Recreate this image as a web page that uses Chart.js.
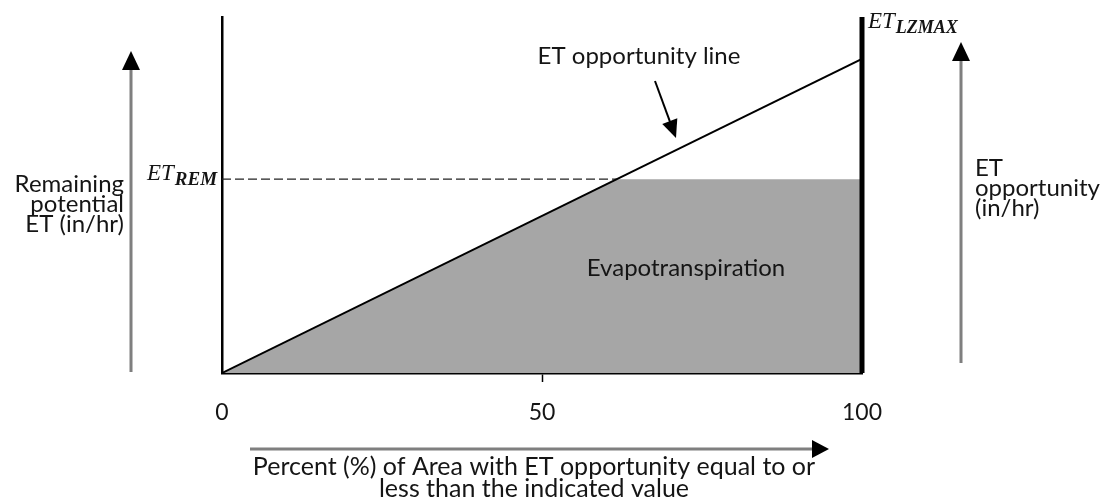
<!DOCTYPE html>
<html>
<head>
<meta charset="utf-8">
<script src="https://cdn.jsdelivr.net/npm/chart.js@4.4.1/dist/chart.umd.min.js"></script>
<style>
  html, body { margin: 0; padding: 0; background: #fff; }
  #wrap { width: 1105px; height: 504px; position: relative; }
</style>
</head>
<body>
<div id="wrap"><canvas id="etChart"></canvas></div>
<script>
// percent of area (x) and the two curves (y, in/hr, scaled so ET_LZMAX = 1)
const areaPct = [0, 61.7, 100];
const opportunity = [0, 0.617, 1.0];
const evapotranspiration = [0, 0.617, 0.617];
const etRem = 0.617;
const etLzMax = 1.0;
const yTop = 1.133;
const xTicks = [0, 50, 100];

const textFont = 'Lato, "Open Sans", sans-serif';
const mathFont = '"Liberation Serif", "DejaVu Serif", serif';
const textSize = 24;
const ink = '#151515';

const pts = (xs, ys) => xs.map((x, i) => ({ x: x, y: ys[i] }));

// arrow with a shaft and a filled black head
function arrow(ctx, x1, y1, x2, y2, shaft, width, headLen, headHalf) {
  const a = Math.atan2(y2 - y1, x2 - x1);
  const bx = x2 - Math.cos(a) * headLen, by = y2 - Math.sin(a) * headLen;
  ctx.save();
  ctx.strokeStyle = shaft;
  ctx.lineWidth = width;
  ctx.beginPath();
  ctx.moveTo(x1, y1);
  ctx.lineTo(bx + Math.cos(a), by + Math.sin(a));
  ctx.stroke();
  ctx.fillStyle = '#000';
  ctx.beginPath();
  ctx.moveTo(x2, y2);
  ctx.lineTo(bx + Math.sin(a) * headHalf, by - Math.cos(a) * headHalf);
  ctx.lineTo(bx - Math.sin(a) * headHalf, by + Math.cos(a) * headHalf);
  ctx.closePath();
  ctx.fill();
  ctx.restore();
}

function subLabel(ctx, x, y, main, sub, mainSize, subSize) {
  ctx.save();
  ctx.fillStyle = ink;
  ctx.textAlign = 'left';
  ctx.textBaseline = 'alphabetic';
  ctx.font = 'italic ' + mainSize + 'px ' + mathFont;
  ctx.fillText(main, x, y);
  const w = ctx.measureText(main).width;
  ctx.font = 'italic bold ' + subSize + 'px ' + mathFont;
  ctx.fillText(sub, x + w + 1, y + 5);
  ctx.restore();
}

function lines(ctx, list, x, y0, step, align, size) {
  ctx.save();
  ctx.fillStyle = ink;
  ctx.font = (size || textSize) + 'px ' + textFont;
  ctx.textAlign = align;
  ctx.textBaseline = 'alphabetic';
  list.forEach((t, i) => ctx.fillText(t, x, y0 + i * step));
  ctx.restore();
}

const decorations = {
  id: 'decorations',
  afterDraw(chart) {
    const ctx = chart.ctx;
    const xs = chart.scales.x, ys = chart.scales.y;

    // side arrows
    arrow(ctx, 131, 372, 131, 51, '#7f7f7f', 3, 19, 9);
    arrow(ctx, 961, 363, 961, 42, '#7f7f7f', 3, 19, 9);
    arrow(ctx, 250, 449, 829, 449, '#7f7f7f', 3, 17, 9);

    lines(ctx, ['Remaining', 'potential', 'ET (in/hr)'], 124, 192, 20, 'right');
    lines(ctx, ['ET', 'opportunity', '(in/hr)'], 975, 176, 20, 'left');
    lines(ctx, ['Percent (%) of Area with ET opportunity equal to or',
                'less than the indicated value'], 534, 475, 22, 'center', 25);

    const yRem = ys.getPixelForValue(etRem);
    subLabel(ctx, 147, yRem + 1, 'ET', 'REM', 23, 19);
    subLabel(ctx, xs.getPixelForValue(100) + 6, 28, 'ET', 'LZMAX', 23, 18);

    lines(ctx, ['ET opportunity line'], 639, 64, 0, 'center');
    lines(ctx, ['Evapotranspiration'], 686, 276, 0, 'center');

    // pointer to the opportunity line
    arrow(ctx, 655, 81, 676, 138, '#000', 2, 18, 8);
  }
};

new Chart(document.getElementById('etChart'), {
  type: 'line',
  data: {
    datasets: [
      {
        label: 'Evapotranspiration',
        data: pts(areaPct, evapotranspiration),
        borderWidth: 0,
        backgroundColor: '#a6a6a6',
        fill: 'origin',
        pointRadius: 0,
        order: 3
      },
      {
        label: 'ET opportunity line',
        data: pts(areaPct, opportunity),
        borderColor: '#000',
        borderWidth: 2,
        fill: false,
        pointRadius: 0,
        order: 1
      },
      {
        label: 'ET REM',
        data: [{ x: 0, y: etRem }, { x: areaPct[1], y: etRem }],
        borderColor: '#222',
        borderWidth: 1.3,
        borderDash: [9, 4],
        fill: false,
        pointRadius: 0,
        order: 2
      },
      {
        label: 'ET LZMAX',
        data: [{ x: 100, y: 0 }, { x: 100, y: yTop }],
        borderColor: '#000',
        borderWidth: 5,
        clip: false,
        fill: false,
        pointRadius: 0,
        order: 0
      }
    ]
  },
  options: {
    responsive: true,
    maintainAspectRatio: false,
    animation: false,
    layout: { padding: { left: 222, right: 243, top: 17, bottom: 81 } },
    plugins: { legend: { display: false }, tooltip: { enabled: false } },
    scales: {
      x: {
        type: 'linear',
        min: 0,
        max: 100,
        afterBuildTicks: (s) => { s.ticks = xTicks.map(v => ({ value: v })); },
        afterFit: (s) => { s.height = 50; },
        ticks: {
          color: ink,
          font: { family: textFont, size: 23 },
          padding: 17,
          maxRotation: 0
        },
        grid: {
          drawOnChartArea: false,
          tickLength: 9,
          tickWidth: 1.5,
          color: (c) => (c.tick && c.tick.value === 50 ? '#000' : 'rgba(0,0,0,0)')
        },
        border: { display: true, color: '#000', width: 2.5 }
      },
      y: {
        type: 'linear',
        min: 0,
        max: yTop,
        afterFit: (s) => { s.width = 0; },
        ticks: { display: false },
        grid: { display: false },
        border: { display: true, color: '#000', width: 2.5 }
      }
    }
  },
  plugins: [decorations]
});
</script>
</body>
</html>
